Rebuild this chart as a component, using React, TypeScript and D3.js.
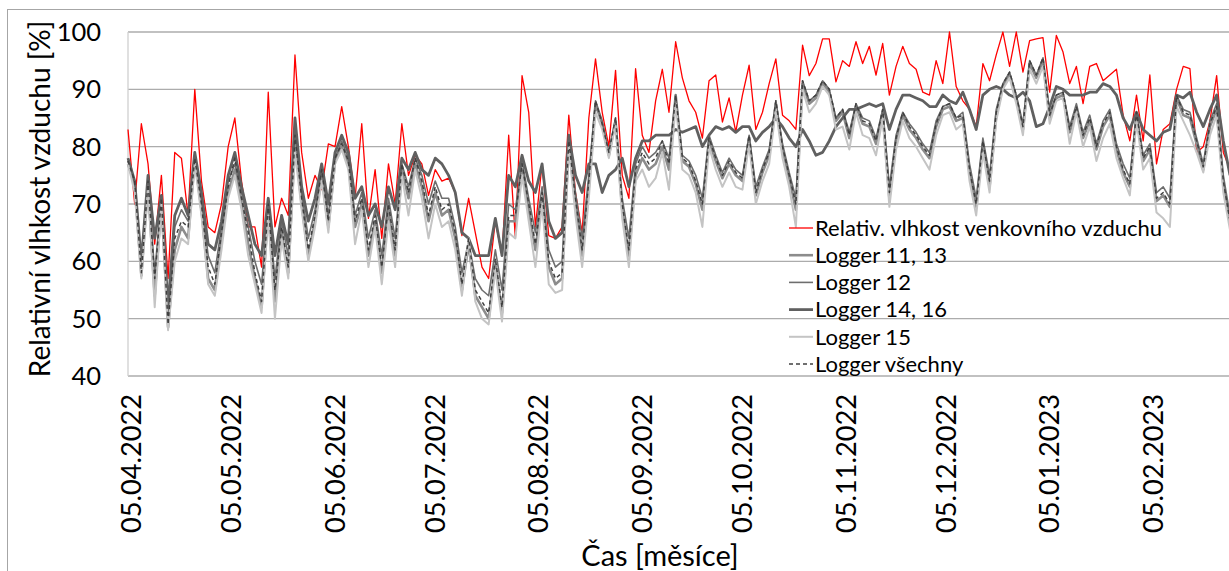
import React from 'react';
import * as d3 from 'd3';

// hodnoty po 2 dnech od 04.04.2022
const startDate = new Date(2022, 3, 4);
const stepDays = 2;

const outdoorRH = [
  83, 70, 84, 77, 63, 75, 57, 79, 78, 68, 90, 74, 66, 65, 70, 80, 85, 74, 66, 66, 59, 89.5, 66, 71, 68, 96, 79, 71, 75,
  72.5, 80.5, 80, 87, 80, 71, 84, 67.5, 76, 64, 77, 70, 84, 75, 78.5, 77, 71.5, 76, 74, 74.5, 72, 64.5, 71, 65, 59, 57, 67,
  61, 82, 64, 92.4, 86, 66, 77, 64.5, 64, 66, 85.5, 72, 65, 85, 95.3, 86, 80, 93.3, 75, 71, 93.6, 82, 79, 88, 93.5, 86,
  98.3, 92, 88, 86, 81.5, 91.5, 92.5, 84.3, 88.5, 82.6, 89, 94.2, 83, 86, 91, 95.3, 85.5, 84.5, 83, 97.7, 92.4, 94.5, 98.8, 98.8, 91.3, 95, 94,
  98.3, 94.5, 97.5, 92.5, 98, 89, 94, 97.5, 94.5, 93.5, 89.5, 89, 95, 91, 100, 90.5, 88, 86.5, 83.5, 94.5, 91.5, 96, 100, 94, 100, 93,
  98.5, 98.8, 99, 89.5, 99.4, 96.5, 91, 94, 87.5, 94, 94.5, 91.5, 92.5, 93.5, 85.5, 81, 89, 81, 92.5, 77, 83, 84, 90, 94, 93.6, 79, 80, 84.5, 92.4, 79, 76,
];

const logger1113 = [
  77, 73.5, 57.5, 73.5, 54, 70.5, 48.5, 62, 66, 64, 78, 69, 57, 55, 64, 72, 76, 70, 63, 57, 52, 69, 53, 65, 58, 81, 70, 61, 67,
  75, 66, 77.5, 80, 77, 66, 70, 61, 67, 58, 69, 61, 76, 71, 77, 73, 67, 72, 68, 69, 64, 55, 63, 54, 52, 50, 59.5,
  51, 67, 67, 76, 69, 62, 71, 59, 56, 57, 80.5, 70, 61, 73, 87.5, 84, 78.5, 84.5, 69, 61, 75, 78, 76, 77, 80, 76,
  89, 77.5, 76.5, 73.5, 69, 81, 77.5, 74.5, 77, 75, 74, 81.5, 71.5, 75.5, 78.5, 87.5, 79.5, 74.5, 69, 91, 87.5, 88.5, 91, 89.5, 84.5, 86, 81.5,
  87, 84, 83.5, 80.5, 86, 71, 81, 85.5, 83, 81.5, 79.5, 78, 83.5, 86.5, 87, 84.5, 85, 75.5, 69.5, 80.5, 73, 85.5, 90.5, 92.5, 88.5, 83,
  94.5, 92, 95, 85, 88.5, 89, 82.5, 86.5, 81.5, 84.5, 79.5, 83.5, 85.5, 79.5, 75.5, 73, 85.5, 77.5, 79.5, 70.5, 71.5, 69.5, 88.5, 85.5, 85, 80.5, 76, 83.5, 86.5, 73.5, 66.5,
];

const logger12 = [
  77.5, 74, 58.5, 74, 58, 71, 50, 66, 69, 67, 78.5, 71, 61, 58, 66, 74, 77, 72, 66, 60, 56, 70, 57, 67, 61, 83, 72, 64, 69,
  76, 68, 78, 81, 78, 68, 72, 64, 69, 61, 71, 64, 77, 73, 78, 75, 70, 74, 71, 71, 66, 58, 63.5, 57, 55, 54, 62,
  55, 70, 69, 77.5, 71, 65, 73, 62, 59, 60, 81, 72, 64, 75, 88, 84.5, 79, 85, 71, 64, 77, 80, 78, 79, 81, 78,
  89, 78.5, 77.5, 75, 71, 82, 78.5, 75.5, 78, 76, 75, 82, 73, 76.5, 79.5, 88, 80.5, 75.5, 71, 91.5, 88, 89, 91.5, 90, 85, 86.5, 82.5,
  87.5, 85, 84.5, 81.5, 86.5, 73, 82, 86, 84, 82.5, 80.5, 79, 84.5, 87, 87.5, 85, 86, 77, 71, 81.5, 75, 86.5, 91, 93, 89, 84,
  95, 92.5, 95.5, 86, 89, 89.5, 83.5, 87.5, 82.5, 85.5, 80.5, 84.5, 86.5, 80.5, 77, 74.5, 86, 78.5, 80.5, 72, 73, 71, 89, 86.5, 86, 81.5, 77, 84.5, 87.5, 75, 68,
];

const logger1416 = [
  78, 74, 60, 75, 64, 71.5, 52, 68, 71, 68, 79, 72, 63, 62, 67, 75, 79, 73, 68, 63, 61, 71, 61, 68, 63, 85, 73, 67, 71,
  77, 70, 79, 82, 79, 71, 73, 68, 70, 66, 73, 69, 78, 76, 79, 76, 75, 78, 77, 75, 72, 65, 64, 61, 61, 61, 67.5,
  61, 75, 73, 78.5, 74, 72, 77, 67, 64, 65, 82, 75, 72, 77, 77, 72, 75, 76, 78, 73, 78, 81, 81, 82, 82, 82,
  83, 82.5, 83, 83.5, 80, 82, 83.5, 83, 83.5, 82.5, 83.5, 83.5, 81, 82.5, 83.5, 85, 83.5, 81.5, 80, 83, 81, 78.5, 79, 81, 83.5, 85, 86.5,
  86.5, 87, 87.5, 87, 87.5, 83, 86.5, 89, 89, 88.5, 88, 87, 87, 89, 88, 87.5, 89.5, 86.5, 83, 89, 90, 90.5, 90, 89, 88.5, 89.5,
  88, 83.5, 84, 87, 90.5, 90, 89, 89, 89, 89.5, 89.5, 91, 90.5, 89, 85, 83, 86, 83, 82, 81, 82.5, 83, 89, 88.5, 89.5, 86, 83.5, 86.5, 89, 81, 75,
];

const logger15 = [
  77, 72, 57, 73, 52, 70, 48, 60, 64, 63, 77, 68, 56, 54, 62, 71, 75, 69, 61, 56, 51, 68, 50, 64, 57, 79, 69, 60, 66,
  74, 65, 77, 79.5, 76, 63, 69, 59, 66, 56, 67, 59, 75, 68, 76, 71, 64, 70, 66, 67, 62, 54, 64, 53, 50, 49, 58.5,
  49.5, 65, 64, 75, 67, 59, 70, 56, 54.5, 55, 80, 68, 59, 71, 86, 83, 78, 84, 67.5, 59, 74, 76, 73, 74.5, 79, 72.5,
  87.5, 76, 75, 72, 66, 80, 76, 73, 75.5, 73, 72.5, 80.5, 70, 74, 77, 86.5, 78, 73, 66, 90, 86, 87.5, 90.5, 89, 83, 83.5, 79.5,
  86, 82, 81.5, 78.5, 85, 69.5, 79.5, 84.5, 81.5, 80, 78, 76, 82, 85.5, 86, 83, 84, 74, 68, 79, 72, 84.5, 90, 92, 87.5, 82,
  93.5, 91, 94, 84, 88, 88.5, 80.5, 86, 80, 83.5, 77.5, 81.5, 84, 78, 74.5, 71.5, 84.5, 76, 78, 68.5, 67.5, 66, 87, 84.5, 82, 79, 75.5, 82, 85.5, 72, 65.5,
];

const loggerAll = [
  77.5, 74, 58, 74, 57, 71, 49, 64, 67, 66, 78, 70, 59, 56, 65, 73, 78, 71, 65, 58, 53, 70, 55, 66, 59, 82, 71, 62, 68,
  76, 67, 78, 80.5, 77.5, 67, 71, 62, 68, 59, 70, 62, 77, 72, 78, 74, 68, 73, 69, 70, 65, 56, 64, 55, 53, 51, 60.5,
  52, 68, 68, 77, 70, 63, 72, 60, 57, 58, 81, 71, 62, 74, 88, 84, 79, 85, 70, 62, 76, 79, 77, 78, 81, 77,
  89, 78, 77, 74, 70, 81.5, 78, 75, 77.5, 75.5, 74.5, 82, 72, 76, 79, 88, 80, 75, 70, 91.5, 88, 89, 91.5, 90, 85, 86.5, 82,
  87.5, 84.5, 84, 81, 86.5, 72, 81.5, 86, 83.5, 82, 80, 78.5, 84, 87, 87.5, 85, 85.5, 76, 70, 81, 74, 86, 91, 93, 89, 83.5,
  95, 92.5, 95.5, 85.5, 89, 89.5, 83, 87, 82, 85, 80, 84, 86, 80, 76, 73.5, 86, 78, 80, 71, 72, 70, 89, 86, 85.5, 81, 76.5, 84, 87, 74, 67,
];

const yTicks = [40, 50, 60, 70, 80, 90, 100];
const xTickLabels = [
  '05.04.2022', '05.05.2022', '05.06.2022', '05.07.2022', '05.08.2022', '05.09.2022',
  '05.10.2022', '05.11.2022', '05.12.2022', '05.01.2023', '05.02.2023',
];

const seriesList = [
  { name: 'Relativ. vlhkost venkovního vzduchu', values: outdoorRH, color: '#ff0000', width: 1.3, dash: null },
  { name: 'Logger 11, 13', values: logger1113, color: '#8c8c8c', width: 2.6, dash: null },
  { name: 'Logger 12', values: logger12, color: '#6e6e6e', width: 1.6, dash: null },
  { name: 'Logger 14, 16', values: logger1416, color: '#606060', width: 2.8, dash: null },
  { name: 'Logger 15', values: logger15, color: '#c4c4c4', width: 2, dash: null },
  { name: 'Logger všechny', values: loggerAll, color: '#404040', width: 1.5, dash: '4 3' },
];

const W = 1229;
const H = 571;
const FONT = 'Lato, "Open Sans", sans-serif';

export default function App() {
  const left = 128;
  const top = 32;
  const bottom = 376;
  const right = 1230;

  const lastDate = d3.timeDay.offset(startDate, (outdoorRH.length - 1) * stepDays);
  const x = d3.scaleTime().domain([startDate, lastDate]).range([left, right]);
  const y = d3.scaleLinear().domain([40, 100]).range([bottom, top]);
  const dates = outdoorRH.map((_, i) => d3.timeDay.offset(startDate, i * stepDays));
  const parse = d3.timeParse('%d.%m.%Y');

  const line = d3
    .line<number>()
    .x((_, i) => x(dates[i]))
    .y((v) => y(v));

  const legendX = 789;
  const legendY = 228;
  const legendStep = 27.2;

  return (
    <>
      <style>{`body{margin:0}`}</style>
      <svg width={W} height={H} style={{ display: 'block', background: '#fff' }} fontFamily={FONT}>
        <rect x={7.5} y={9.5} width={1300} height={700} fill="#fff" stroke="#a6a6a6" />

        {/* mřížka */}
        {yTicks.map((t) => (
          <line key={t} x1={left} x2={W} y1={y(t)} y2={y(t)} stroke="#acacac" strokeWidth={1.3} />
        ))}
        <line x1={left} x2={left} y1={top} y2={bottom} stroke="#d0d0d0" strokeWidth={1.3} />

        {/* popisky osy y */}
        {yTicks.map((t) => (
          <text key={t} x={101} y={y(t)} dy="0.35em" textAnchor="end" fontSize={25.5} fill="#000">
            {t}
          </text>
        ))}

        {/* popisky osy x */}
        {xTickLabels.map((lbl) => {
          const px = x(parse(lbl) as Date);
          return (
            <text
              key={lbl}
              transform={`translate(${px},394) rotate(-90)`}
              textAnchor="end"
              dy="0.35em"
              fontSize={27.2}
              fill="#000"
            >
              {lbl}
            </text>
          );
        })}

        {/* datové řady */}
        {seriesList.map((s) => (
          <path
            key={s.name}
            d={line(s.values) ?? ''}
            fill="none"
            stroke={s.color}
            strokeWidth={s.width}
            strokeDasharray={s.dash ?? undefined}
            strokeLinejoin="round"
          />
        ))}

        {/* legenda */}
        {seriesList.map((s, i) => {
          const ly = legendY + i * legendStep;
          return (
            <g key={s.name}>
              <line
                x1={legendX}
                x2={legendX + 24}
                y1={ly}
                y2={ly}
                stroke={s.color}
                strokeWidth={s.width}
                strokeDasharray={s.dash ?? undefined}
              />
              <text x={legendX + 26} y={ly} dy="0.35em" fontSize={22} fill="#000">
                {s.name}
              </text>
            </g>
          );
        })}

        {/* názvy os */}
        <text
          transform="translate(40,199) rotate(-90)"
          textAnchor="middle"
          dy="0.35em"
          fontSize={28}
          fill="#000"
        >
          Relativní vlhkost vzduchu [%]
        </text>
        <text x={660} y={566} textAnchor="middle" fontSize={29} fill="#000">
          Čas [měsíce]
        </text>
      </svg>
    </>
  );
}
